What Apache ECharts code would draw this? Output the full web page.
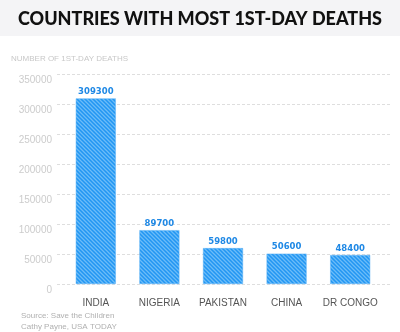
<!DOCTYPE html>
<html>
<head>
<meta charset="utf-8">
<script src="https://cdn.jsdelivr.net/npm/echarts@6/dist/echarts.min.js"></script>
<style>
  html, body { margin: 0; padding: 0; background: #ffffff; }
  #chart { width: 400px; height: 332px; }
</style>
</head>
<body>
<div id="chart"></div>
<script>
// Countries with the most first-day newborn deaths
const countries = ['INDIA', 'NIGERIA', 'PAKISTAN', 'CHINA', 'DR CONGO'];
const deaths = [309300, 89700, 59800, 50600, 48400];
const yTicks = [0, 50000, 100000, 150000, 200000, 250000, 300000, 350000];

// Diagonal hatch fill for the bars
function hatch() {
  const c = document.createElement('canvas');
  c.width = 4; c.height = 4;
  const g = c.getContext('2d');
  g.fillStyle = '#2196f3';
  g.fillRect(0, 0, 4, 4);
  g.strokeStyle = '#6cbcf8';
  g.lineWidth = 1.3;
  g.beginPath();
  g.moveTo(-1, -1); g.lineTo(5, 5);
  g.moveTo(-3, 1); g.lineTo(1, 5);
  g.moveTo(1, -3); g.lineTo(5, 1);
  g.stroke();
  return c;
}

const chart = echarts.init(document.getElementById('chart'), null, { renderer: 'canvas' });
const yMax = yTicks[yTicks.length - 1];
const yStep = yTicks[1] - yTicks[0];

chart.setOption({
  backgroundColor: '#ffffff',
  animation: false,
  graphic: [
    { type: 'rect', left: 0, top: 0, shape: { width: 400, height: 36 }, style: { fill: '#f4f4f6' }, z: -1 }
  ],
  title: [
    {
      text: 'COUNTRIES WITH MOST 1ST-DAY DEATHS',
      left: 'center', top: 10, padding: 0,
      textStyle: { fontFamily: 'Lato', fontWeight: 900, fontSize: 18, color: '#111111' }
    },
    {
      text: 'NUMBER OF 1ST-DAY DEATHS',
      left: 11, top: 55, padding: 0,
      textStyle: { fontFamily: 'Liberation Sans', fontWeight: 'normal', fontSize: 8, color: '#c8c8c8' }
    },
    {
      text: 'Source: Save the Children\nCathy Payne, USA TODAY',
      left: 21, top: 311, padding: 0,
      textStyle: { fontFamily: 'Liberation Sans', fontWeight: 'normal', fontSize: 8, lineHeight: 10.5, color: '#b0b0b0' }
    }
  ],
  grid: [
    { left: 57, right: 10, top: 74, bottom: 48 },
    { left: 64, right: 18, top: 74, bottom: 48 }
  ],
  xAxis: [
    { type: 'value', gridIndex: 0, show: false, min: 0, max: 1 },
    {
      type: 'category', gridIndex: 1, data: countries,
      axisLine: { show: false }, axisTick: { show: false },
      axisLabel: { interval: 0, margin: 14, fontFamily: 'Liberation Sans', fontSize: 10, color: '#555555' }
    }
  ],
  yAxis: [
    {
      type: 'value', gridIndex: 0, min: 0, max: yMax, interval: yStep,
      axisLine: { show: false }, axisTick: { show: false },
      splitLine: { lineStyle: { color: '#dedede', type: [3, 2], width: 1 } },
      axisLabel: {
        margin: 5, fontFamily: 'Liberation Sans', fontSize: 10, color: '#cccccc',
        verticalAlign: 'top', padding: [1, 0, 0, 0],
        formatter: v => String(v)
      }
    },
    { type: 'value', gridIndex: 1, min: 0, max: yMax, interval: yStep, show: false, splitLine: { show: false } }
  ],
  series: [
    {
      type: 'bar', xAxisIndex: 1, yAxisIndex: 1,
      data: deaths, barWidth: 40,
      itemStyle: { color: { image: hatch(), repeat: 'repeat' }, borderColor: '#5db3f7', borderWidth: 0.5 },
      label: {
        show: true, position: 'top', distance: 2,
        fontFamily: 'DejaVu Sans', fontWeight: 'bold', fontSize: 8.5, color: '#1e88e5'
      }
    }
  ]
});
</script>
</body>
</html>
